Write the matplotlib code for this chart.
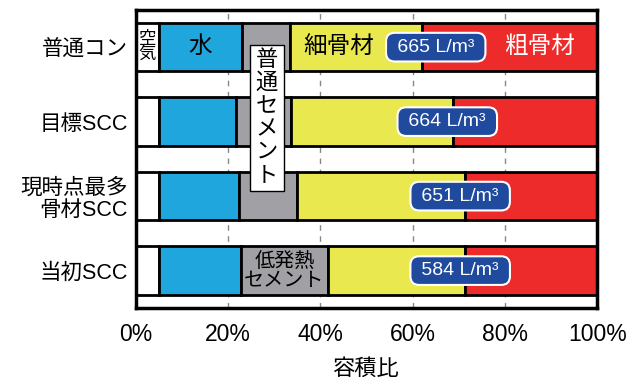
import numpy as np
import matplotlib.pyplot as plt
from matplotlib.ticker import FuncFormatter

plt.rcParams['font.family'] = ['Liberation Sans', 'Noto Sans CJK JP']

# Mix categories (top to bottom)
mixes = ['普通コン', '目標SCC', '現時点最多\n骨材SCC', '当初SCC']

# Volume fractions (%) of each material
air = [5.0, 5.0, 5.0, 5.0]
water = [18.0, 16.7, 17.4, 17.8]
# total aggregate volume (L/m3) shown in the labels
aggregate = [665, 664, 651, 584]
fine_end = [62.0, 68.7, 71.3, 71.3]  # cumulative % where fine aggregate ends

cement = [100 - a / 10 - w - ai for a, w, ai in zip(aggregate, water, air)]
fine = [fe - (100 - a / 10) for fe, a in zip(fine_end, aggregate)]
coarse = [100 - fe for fe in fine_end]

colors = ['white', '#1FA7DD', '#A1A1A5', '#E9E84E', '#EE2B2B']
parts = [air, water, cement, fine, coarse]

fig = plt.figure(figsize=(6.26, 3.81), dpi=100)
ax = fig.add_axes([0.217, 0.192, 0.737, 0.782])

y = np.arange(len(mixes))
left = np.zeros(len(mixes))
for vals, c in zip(parts, colors):
    ax.barh(y, vals, left=left, height=0.65, color=c, edgecolor='black',
            linewidth=2, zorder=2)
    left += np.array(vals)

# dashed grid visible between the bars
for gx in [20, 40, 60, 80]:
    ax.axvline(gx, color='#888888', linestyle=(0, (4, 4)), linewidth=1, zorder=1)

ax.set_xlim(0, 100)
ax.set_ylim(3.5, -0.5)
ax.set_yticks(y)
ax.set_yticklabels(mixes, fontsize=15.5, linespacing=1.1)
ax.set_xticks([0, 20, 40, 60, 80, 100])
ax.xaxis.set_major_formatter(FuncFormatter(lambda v, p: f'{int(v)}%'))
ax.tick_params(axis='both', length=0)
ax.tick_params(axis='x', pad=11, labelsize=16.5)
ax.tick_params(axis='y', pad=6)
ax.set_xlabel('容積比', fontsize=16, labelpad=9)
for s in ax.spines.values():
    s.set_linewidth(2.5)

# material names in the top bar
ax.text(air[0] / 2, 0, '空\n気', ha='center', va='center', fontsize=12.5,
        linespacing=0.95, zorder=4)
ax.text(air[0] + water[0] / 2, 0, '水', ha='center', va='center', fontsize=17, zorder=4)
ax.text(44.0, 0, '細骨材', ha='center', va='center', fontsize=17, zorder=4)
ax.text(fine_end[0] + 25.5, 0, '粗骨材', ha='center', va='center',
        fontsize=17, color='white', zorder=4)

# vertical cement label spanning the upper bars
ax.text(28.4, 0.95, '\n'.join('普通セメント'), ha='center', va='center',
        fontsize=16, linespacing=1.12, zorder=5,
        bbox=dict(boxstyle='square,pad=0.25', fc='white', ec='black', lw=1))

# low-heat cement label in the bottom bar
c3 = air[3] + water[3] + cement[3] / 2
ax.text(c3, 3, '低発熱\nセメント', ha='center', va='center', fontsize=14.5,
        linespacing=1.0, zorder=4)

# total aggregate volume labels
label_x = [65.0, 67.5, 70.3, 70.3]
for i, (v, lx) in enumerate(zip(aggregate, label_x)):
    ax.text(lx, i, f' {v} L/m³ ', ha='center', va='center', fontsize=14,
            color='white', zorder=6,
            bbox=dict(boxstyle='round,pad=0.3,rounding_size=0.45', fc='#1F4A9D',
                      ec='white', lw=1.5))

fig.savefig('out.png', dpi=100)
